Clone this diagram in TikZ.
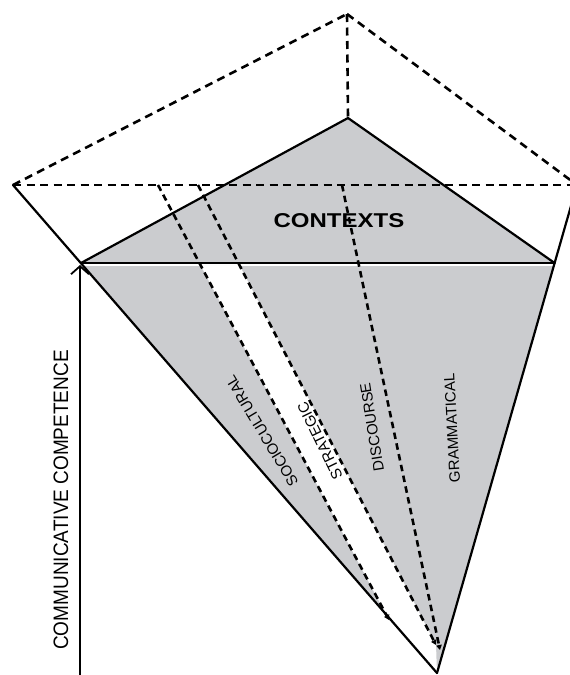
\documentclass[tikz,border=0pt]{standalone}
\usepackage{fontspec}
\usepackage{graphicx}
\usetikzlibrary{arrows.meta}
\newfontfamily\labfont{Liberation Sans}
\definecolor{facegray}{RGB}{203,204,207}
\begin{document}
\begin{tikzpicture}[x=1pt,y=-1pt,
  edge/.style={line width=2.2pt, line cap=round},
  dashline/.style={line width=2.6pt, dash pattern=on 8pt off 5.5pt},
  innerdash/.style={line width=2.6pt, dash pattern=on 6.5pt off 4.5pt, -{Triangle[length=5pt,width=5.5pt]}},
  lab/.style={font=\labfont\fontsize{15}{15}\selectfont, inner sep=0pt},
  biglab/.style={font=\labfont\fontsize{19}{19}\selectfont, inner sep=0pt},
  ctxlab/.style={font=\labfont\bfseries\fontsize{20}{20}\selectfont, inner sep=0pt}]
\useasboundingbox (0,0) rectangle (570,675);
\clip (0,0) rectangle (570,675);
% corners
\coordinate (T) at (347,14);
\coordinate (A) at (348,118);
\coordinate (L) at (13,185);
\coordinate (R) at (577,185);
\coordinate (BL) at (81,263);
\coordinate (BR) at (554.6,263);
\coordinate (BLg) at (83.4,266);
\coordinate (BRg) at (553.8,266);
\coordinate (V) at (437,673);
% inner dashed lines
\coordinate (P1) at (158,185);
\coordinate (E1) at (389,620);
\coordinate (P2) at (198,185);
\coordinate (E2) at (436,645);
\coordinate (P3) at (342,185);
\coordinate (E3) at (440,650);
\coordinate (W1) at (201,266);
\coordinate (W2) at (239.9,266);
% arrow
\coordinate (ArB) at (80,676);
\coordinate (ArT) at (80,265);
% fills
\fill[facegray] (BL) -- (A) -- (BR) -- cycle;
\fill[facegray] (BLg) -- (BRg) -- (V) -- cycle;
\fill[white] (W1) -- (W2) -- (E2) -- (V) -- (E1) -- cycle;
% top face dashed
\draw[dashline] (L) -- (T);
\draw[dashline] (T) -- (R);
\draw[dashline] (T) -- (A);
\draw[dashline] (L) -- (R);
% inner dashed
\draw[innerdash] (P1) -- (E1);
\draw[innerdash] (P2) -- (E2);
\draw[innerdash] (P3) -- (E3);
% solid edges
\draw[edge] (L) -- (V);
\draw[edge] (R) -- (V);
\draw[edge] (BL) -- (BR);
\draw[edge] (BL) -- (A);
\draw[edge] (A) -- (BR);
% labels
\node[ctxlab] (ctx) at (339,221) {\scalebox{1.2}[1]{CONTEXTS}};
\node[lab, rotate=121] (socio) at (262,431) {SOCIOCULTURAL};
\node[lab, rotate=116] (strat) at (320,441) {STRATEGIC};
\node[lab, rotate=99] (disc) at (372,427) {DISCOURSE};
\node[lab, rotate=93] (gram) at (452,428) {GRAMMATICAL};
\node[biglab, rotate=90] (comm) at (61,500) {\scalebox{1}[1.1]{COMMUNICATIVE COMPETENCE}};
% arrow
\draw[line width=1.8pt, -{Straight Barb[length=8pt,width=18pt]}] (ArB) -- (ArT);
\end{tikzpicture}
\end{document}
